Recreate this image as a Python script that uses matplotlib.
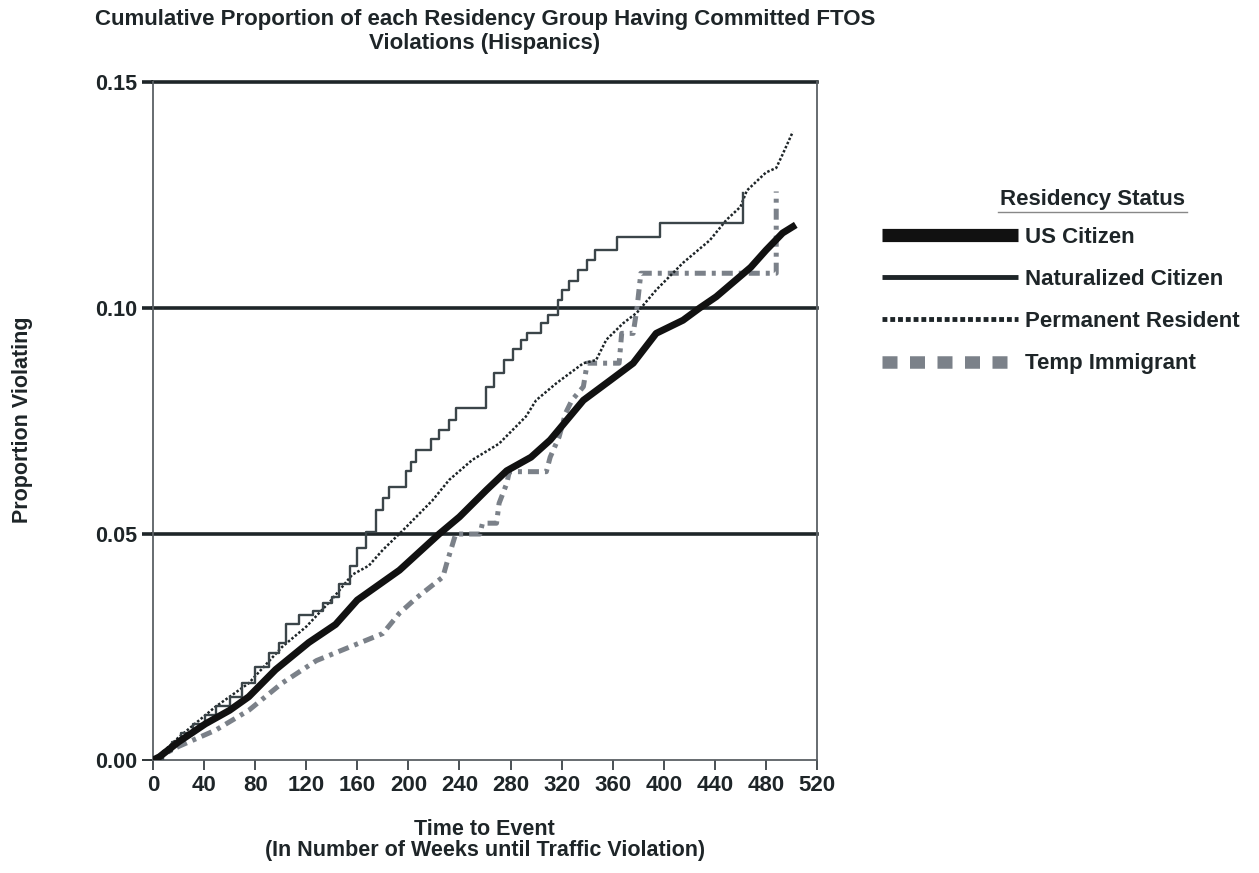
import matplotlib.pyplot as plt
from matplotlib.lines import Line2D

plt.rcParams['font.family'] = ['Liberation Sans', 'DejaVu Sans']
plt.rcParams['font.weight'] = 'bold'

# semanas y proporcion acumulada
us_weeks = [0, 5, 20, 41, 60, 75, 96, 122, 143, 160, 193, 224, 240, 261, 277, 296, 311,
            337, 358, 376, 394, 415, 428, 441, 468, 480, 493, 501]
us_prop = [0, 0.0007, 0.004, 0.008, 0.011, 0.014, 0.020, 0.026, 0.030, 0.0354, 0.042,
           0.050, 0.0538, 0.0597, 0.064, 0.067, 0.0708, 0.0796, 0.084, 0.0878, 0.0944,
           0.0973, 0.100, 0.1025, 0.109, 0.1128, 0.1166, 0.118]

nat_weeks = [0, 8, 15, 22, 31, 41, 49, 60, 70, 80, 91, 99, 104, 114, 125, 133, 140, 146,
             154, 160, 167, 175, 180, 185, 198, 202, 206, 218, 224, 232, 237, 261, 267,
             275, 282, 288, 293, 304, 309, 317, 320, 326, 333, 340, 346, 363, 397, 462]
nat_prop = [0, 0.002, 0.004, 0.006, 0.008, 0.010, 0.012, 0.014, 0.017, 0.0206, 0.0236,
            0.026, 0.030, 0.032, 0.033, 0.0347, 0.036, 0.039, 0.043, 0.047, 0.0505, 0.0553,
            0.058, 0.0605, 0.064, 0.066, 0.0686, 0.071, 0.073, 0.0752, 0.0779, 0.0826,
            0.0856, 0.0885, 0.091, 0.0929, 0.0944, 0.0966, 0.0984, 0.1018, 0.104, 0.106,
            0.1084, 0.1106, 0.1128, 0.1158, 0.1188, 0.1254]

perm_weeks = [0, 5, 20, 49, 75, 101, 120, 140, 156, 169, 180, 196, 219, 232, 250, 271,
              292, 300, 316, 337, 347, 355, 368, 379, 394, 415, 436, 449, 460, 465, 480,
              488, 493, 501]
perm_prop = [0, 0.001, 0.005, 0.0118, 0.017, 0.025, 0.0295, 0.0355, 0.041, 0.043, 0.0465,
             0.0509, 0.0575, 0.062, 0.0664, 0.070, 0.076, 0.0796, 0.0834, 0.0878, 0.0885,
             0.093, 0.0966, 0.099, 0.104, 0.110, 0.115, 0.1195, 0.1224, 0.126, 0.130,
             0.131, 0.134, 0.139]

temp_weeks = [0, 20, 49, 75, 101, 128, 154, 180, 193, 206, 227, 230, 237, 256, 258, 269,
              271, 277, 279, 308, 311, 318, 323, 328, 337, 340, 365, 367, 376, 379, 382,
              488, 488]
temp_prop = [0, 0.003, 0.0066, 0.011, 0.017, 0.022, 0.025, 0.028, 0.0325, 0.0358, 0.0405,
             0.0435, 0.050, 0.050, 0.0524, 0.0524, 0.0568, 0.0612, 0.0638, 0.0638, 0.067,
             0.0715, 0.0767, 0.0796, 0.0826, 0.0878, 0.0878, 0.0944, 0.0944, 0.100, 0.1077,
             0.1077, 0.1258]

etiquetas = ['US Citizen', 'Naturalized Citizen', 'Permanent Resident', 'Temp Immigrant']
x_ticks = list(range(0, 521, 40))
y_ticks = [0.00, 0.05, 0.10, 0.15]

oscuro = '#1e2528'
gris = '#7b8189'

fig = plt.figure(figsize=(12.59, 8.73), dpi=100)
ax = fig.add_axes([0.1215, 0.1294, 0.5275, 0.7766])

# lineas horizontales gruesas
for yv in y_ticks[1:]:
    ax.axhline(yv, color=oscuro, lw=2.6, zorder=1, clip_on=False)

ax.plot(temp_weeks, temp_prop, color=gris, lw=3.6, linestyle=(0, (2.2, 1.2, 0.8, 1.2)), zorder=2)
ax.plot(perm_weeks, perm_prop, color=oscuro, lw=1.8, linestyle=(0, (1, 0.8)), zorder=3)
ax.plot(nat_weeks, nat_prop, color='#3b4549', lw=1.7, drawstyle='steps-post', zorder=3)
ax.plot(us_weeks, us_prop, color='#111111', lw=5, zorder=4)

ax.set_xlim(0, 520)
ax.set_ylim(0, 0.15)
ax.set_xticks(x_ticks)
ax.set_yticks(y_ticks)
ax.set_yticklabels(['%.2f' % v for v in y_ticks])
ax.tick_params(axis='x', labelsize=16, length=7, width=1.4, color='#4a5054',
               labelcolor=oscuro, pad=4)
ax.tick_params(axis='y', labelsize=15.5, length=8, width=2.6, color=oscuro,
               labelcolor=oscuro, pad=3)
ax.yaxis.get_major_ticks()[0].tick1line.set_markeredgewidth(1.3)
for s in ['left', 'right', 'bottom']:
    ax.spines[s].set_color('#5a6064')
    ax.spines[s].set_linewidth(1.3)
ax.spines['top'].set_visible(False)

fig.text(0.385, 0.990, 'Cumulative Proportion of each Residency Group Having Committed FTOS\nViolations (Hispanics)',
         ha='center', va='top', fontsize=16, color=oscuro, linespacing=1.2)
fig.text(0.385, 0.038, 'Time to Event\n(In Number of Weeks until Traffic Violation)',
         ha='center', va='center', fontsize=15.5, color=oscuro, linespacing=1.0)
fig.text(0.0175, 0.519, 'Proportion Violating', rotation=90, ha='center', va='center',
         fontsize=15.5, color=oscuro)

# leyenda
fig.text(0.8675, 0.772, 'Residency Status', ha='center', va='center', fontsize=16, color=oscuro)
fig.add_artist(Line2D([0.793, 0.943], [0.757, 0.757], color='#888888', lw=1))

handles = [
    Line2D([], [], color='#111111', lw=9.5, solid_capstyle='butt'),
    Line2D([], [], color=oscuro, lw=3.5, solid_capstyle='butt'),
    Line2D([], [], color=oscuro, lw=3.5, linestyle=(0, (1, 0.6))),
    Line2D([], [], color=gris, lw=9, linestyle=(0, (1.2, 1.0))),
]
fig.legend(handles, etiquetas, loc='upper left', bbox_to_anchor=(0.7006, 0.740),
           frameon=False, fontsize=16, handlelength=6.1, handletextpad=0.35,
           labelspacing=0.95, borderpad=0, borderaxespad=0, labelcolor=oscuro)

plt.savefig('out.png', dpi=100)
